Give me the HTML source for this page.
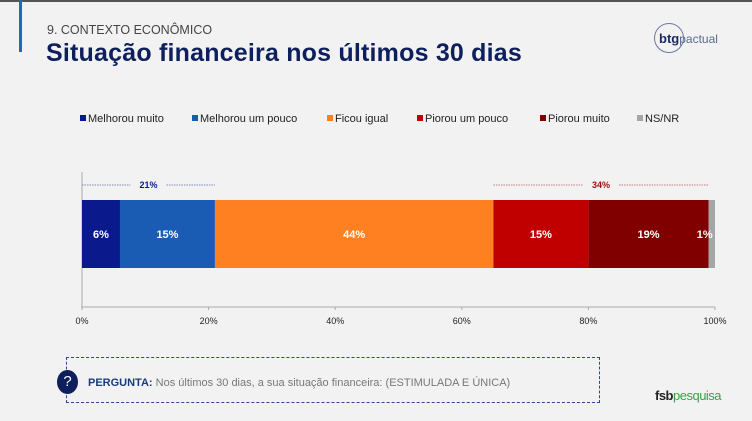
<!DOCTYPE html>
<html><head><meta charset="utf-8"><style>
body{margin:0;width:752px;height:421px;background:#f2f2f2;font-family:"Liberation Sans",sans-serif;position:relative;overflow:hidden}
.abs{position:absolute}
.leg{position:absolute;top:113px;font-size:11px;color:#222;white-space:nowrap}
.leg i{display:inline-block;width:6px;height:6px;margin-right:2px;vertical-align:1px}
</style></head><body>
<div class="abs" style="left:0;top:0;width:752px;height:2px;background:#555"></div>
<div class="abs" style="left:19px;top:0;width:3px;height:52px;background:#1a6ac8"></div>
<div class="abs" style="left:47px;top:23px;font-size:12.5px;color:#444">9. CONTEXTO ECONÔMICO</div>
<div class="abs" style="left:46px;top:39px;font-size:25px;letter-spacing:0.2px;font-weight:bold;color:#0d1f5c">Situação financeira nos últimos 30 dias</div>
<div class="abs" style="left:654px;top:23px;width:28px;height:28px;border:1px solid #6a7aa0;border-radius:50%"></div>
<div class="abs" style="left:659px;top:31px;font-size:13px;color:#1a2a5c"><b>btg</b><span style="font-size:12px;color:#5a6a90">pactual</span></div>

<div class="leg" style="left:80px"><i style="background:#0a1a8c"></i>Melhorou muito</div>
<div class="leg" style="left:192px"><i style="background:#1a5cb4"></i>Melhorou um pouco</div>
<div class="leg" style="left:327px"><i style="background:#ff8020"></i>Ficou igual</div>
<div class="leg" style="left:417px"><i style="background:#c00000"></i>Piorou um pouco</div>
<div class="leg" style="left:540px"><i style="background:#800000"></i>Piorou muito</div>
<div class="leg" style="left:637px"><i style="background:#a6a6a6"></i>NS/NR</div>

<svg class="abs" style="left:0;top:0" width="752" height="421" id="chart"></svg>

<div class="abs" style="left:66px;top:357px;width:532px;height:44px;border:1px dashed #2a4a8c"></div>
<div class="abs" style="left:57px;top:370px;width:21px;height:24px;border-radius:50%;background:#0d1f5c;color:#fff;font-size:15px;text-align:center;line-height:24px">?</div>
<div class="abs" style="left:88px;top:377px;font-size:11px;color:#777"><b style="color:#1a3a7c">PERGUNTA:</b> Nos últimos 30 dias, a sua situação financeira: (ESTIMULADA E ÚNICA)</div>
<div class="abs" style="left:655px;top:388px;font-size:13px;color:#222;letter-spacing:-0.5px"><b>fsb</b><span style="color:#3aa04a">pesquisa</span></div>

<script>
const categories=["Melhorou muito","Melhorou um pouco","Ficou igual","Piorou um pouco","Piorou muito","NS/NR"];
const values=[6,15,44,15,19,1];
const colors=["#0a1a8c","#1a5cb4","#ff8020","#c00000","#800000","#a6a6a6"];
const ticks=[0,20,40,60,80,100];
const groupLabels=["21%","34%"];
const NS="http://www.w3.org/2000/svg";
const svg=document.getElementById('chart');
const x0=82,x1=715,barY=200,barH=68;
const xs=v=>x0+(x1-x0)*v/100;
function el(t,a){const e=document.createElementNS(NS,t);for(const k in a)e.setAttribute(k,a[k]);svg.appendChild(e);return e;}
let a=el('line',{x1:x0,y1:172,x2:x0,y2:307,stroke:'#aaa','stroke-width':1});


a=el('line',{x1:x0-1,y1:307,x2:x1,y2:307,stroke:'#aaa','stroke-width':1});


ticks.forEach(t=>{
 const tl=el('line',{x1:xs(t),y1:307,x2:xs(t),y2:310,stroke:'#aaa'});
 
 
 const tx=el('text',{x:xs(t),y:324,'font-size':9,'text-anchor':'middle',fill:'#222','font-family':'Liberation Sans'});
 tx.textContent=t+'%';
 
 
});
let cum=0;
values.forEach((v,i)=>{
 const r=el('rect',{x:xs(cum),y:barY,width:xs(cum+v)-xs(cum),height:barH,fill:colors[i]});
 
 
 const cx=i==values.length-1?xs(cum)-4:(xs(cum)+xs(cum+v))/2;
 const t=el('text',{x:cx,y:barY+barH/2+4,'font-size':11,'font-weight':'bold','text-anchor':'middle',fill:'#fff','font-family':'Liberation Sans'});
 t.textContent=v+'%';
 
 
 cum+=v;
});
const better=values[0]+values[1], worse=values[3]+values[4];
const groups=[[0,better,'#0a1a8c','#7a8ac0'],[better+values[2],better+values[2]+worse,'#a01010','#c08080']];
groups.forEach((g,i)=>{
 const s=xs(g[0]),e=xs(g[1]),m=(s+e)/2;
 const l1=el('line',{x1:s,y1:185,x2:m-18,y2:185,stroke:g[3],'stroke-dasharray':'1.5,1'});
 
 
 const l2=el('line',{x1:m+18,y1:185,x2:e,y2:185,stroke:g[3],'stroke-dasharray':'1.5,1'});
 
 
 const t=el('text',{x:m,y:188,'font-size':9,'font-weight':'bold','text-anchor':'middle',fill:g[2],'font-family':'Liberation Sans'});
 t.textContent=groupLabels[i];
 
 
});
</script>
</body></html>
